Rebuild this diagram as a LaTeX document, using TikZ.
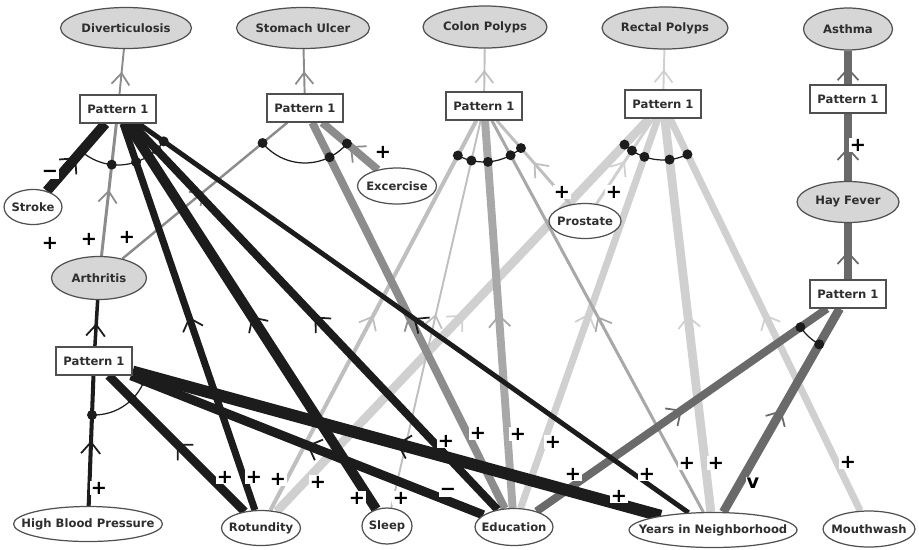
\documentclass[tikz,border=0pt]{standalone}
\usepackage{fontspec}
\setmainfont{DejaVu Sans}
\usetikzlibrary{shapes.geometric,arrows.meta,decorations.markings,calc}
\pgfdeclarelayer{edgelayer}
\pgfsetlayers{edgelayer,main}

\definecolor{inkblack}{HTML}{1C1C1C}
\definecolor{inkdark}{HTML}{6A6A6A}
\definecolor{inkmid}{HTML}{8C8C8C}
\definecolor{inklightB}{HTML}{A8A8A8}
\definecolor{inklight}{HTML}{BFBFBF}
\definecolor{inkpale}{HTML}{D0D0D0}
\definecolor{condfill}{HTML}{D6D6D6}
\definecolor{outline}{HTML}{505050}
\definecolor{textink}{HTML}{2E2E2E}

\newcommand\ndfont{\bfseries\fontsize{6.6}{7.5}\selectfont}
\newcommand\sgfont{\bfseries\fontsize{11}{11}\selectfont}

\tikzset{
  every label/.style={font=\ndfont, text=textink, inner sep=0pt},
  cond/.style={ellipse, draw=outline, line width=0.7pt, fill=condfill, inner sep=0pt},
  fact/.style={ellipse, draw=outline, line width=0.7pt, fill=white, inner sep=0pt},
  ovalsize/.style n args={2}{minimum width=#1cm, minimum height=#2cm},
  patbox/.style={rectangle, draw=outline, line width=0.7pt, fill=white,
    minimum width=1.52cm, minimum height=0.56cm, inner sep=0pt, font=\ndfont, text=textink},
  midarrow/.style={postaction={decorate}, decoration={markings,
    mark=at position 0.5 with {\arrow{Straight Barb[length=6.5pt, width=9.5pt 0.6, line width=1pt]}}}},
  blk/.style={midarrow, draw=inkblack},
  drk/.style={midarrow, draw=inkdark},
  mdg/.style={midarrow, draw=inkmid},
  lgb/.style={midarrow, draw=inklightB},
  lgt/.style={midarrow, draw=inklight},
  pal/.style={midarrow, draw=inkpale},
  arcline/.style={draw=inkblack, line width=0.7pt},
  dot/.style={fill=inkblack},
  sgn/.style={fill=white, inner sep=0.6pt, font=\sgfont, text=black},
}

% AND-arc joining the inputs of a pattern box
\newcommand\joinarc[4]{%
  \draw[arcline] let \p1=($(#2)-(#1)$), \p2=($(#3)-(#1)$),
      \n1={atan2(\y1,\x1)}, \n2={atan2(\y2,\x2)} in
    ($(#1)+(\n1:#4)$) arc[start angle=\n1, end angle=\n2, radius=#4];}
\newcommand\joindots[3]{%
  \foreach \s in {#2}{\fill[dot] ($(#1)!#3!(\s)$) circle[radius=0.1cm];}}

\begin{document}
\begin{tikzpicture}[x=0.02cm, y=-0.02cm]
\useasboundingbox (0,0) rectangle (919,549);

% conditions
\node[cond, ovalsize={2.62}{0.82}, label={center:Diverticulosis}] (div) at (126,28) {};
\node[cond, ovalsize={2.66}{0.82}, label={center:Stomach Ulcer}] (su) at (303,28) {};
\node[cond, ovalsize={2.48}{0.84}, label={center:Colon Polyps}] (cp) at (485,27) {};
\node[cond, ovalsize={2.52}{0.84}, label={center:Rectal Polyps}] (rp) at (665,28) {};
\node[cond, ovalsize={1.78}{0.84}, label={center:Asthma}] (ast) at (848,29) {};
\node[cond, ovalsize={2.04}{0.82}, label={center:Hay Fever}] (hf) at (848,202) {};
\node[cond, ovalsize={1.90}{0.86}, label={center:Arthritis}] (art) at (99,278) {};

% factors
\node[fact, ovalsize={1.16}{0.70}, label={center:Stroke}] (stroke) at (33,207) {};
\node[fact, ovalsize={1.58}{0.72}, label={center:Excercise}] (exc) at (397,186) {};
\node[fact, ovalsize={1.44}{0.70}, label={center:Prostate}] (pros) at (585,221) {};
\node[fact, ovalsize={2.98}{0.70}, label={center:High Blood Pressure}] (hbp) at (88,524) {};
\node[fact, ovalsize={1.58}{0.70}, label={center:Rotundity}] (rot) at (261,528) {};
\node[fact, ovalsize={1.00}{0.72}, label={center:Sleep}] (slp) at (387,526) {};
\node[fact, ovalsize={1.56}{0.74}, label={center:Education}] (edu) at (514,527) {};
\node[fact, ovalsize={3.36}{0.70}, label={center:Years in Neighborhood}] (yrs) at (713,530) {};
\node[fact, ovalsize={1.84}{0.72}, label={center:Mouthwash}] (mw) at (869,529) {};

% pattern boxes
\node[patbox] (pdiv) at (118,109) {Pattern 1};
\node[patbox] (psu)  at (305,108) {Pattern 1};
\node[patbox] (pcp)  at (484,106) {Pattern 1};
\node[patbox] (prp)  at (663,104) {Pattern 1};
\node[patbox] (past) at (848,99)  {Pattern 1};
\node[patbox] (phf)  at (848,294) {Pattern 1};
\node[patbox] (part) at (94,361)  {Pattern 1};

\begin{pgfonlayer}{edgelayer}
% rectal polyps
\draw[pal, line width=5pt]   (rot)  -- (prp);
\draw[pal, line width=1.7pt] (pros) -- (prp);
\draw[pal, line width=4pt]   (edu)  -- (prp);
\draw[pal, line width=5pt]   (yrs)  -- (prp);
\draw[pal, line width=4pt]   (mw)   -- (prp);
\draw[pal, line width=1.1pt] (prp)  -- (rp);
% colon polyps
\draw[lgt, line width=2.3pt] (rot)  -- (pcp);
\draw[lgt, line width=1.1pt] (slp)  -- (pcp);
\draw[lgb, line width=4.5pt] (edu)  -- (pcp);
\draw[lgb, line width=1.7pt] (yrs)  -- (pcp);
\draw[lgt, line width=1.7pt] (pros) -- (pcp);
\draw[lgt, line width=1.1pt] (pcp)  -- (cp);
% stomach ulcer
\draw[mdg, line width=1.4pt] (art)  -- (psu);
\draw[mdg, line width=4.5pt] (edu)  -- (psu);
\draw[mdg, line width=4.5pt] (exc)  -- (psu);
\draw[mdg, line width=1.1pt] (psu)  -- (su);
% hay fever and asthma
\draw[drk, line width=4.5pt] (edu)  -- (phf);
\draw[drk, line width=5pt]   (yrs)  -- (phf);
\draw[drk, line width=4pt]   (phf)  -- (hf);
\draw[drk, line width=4pt]   (hf)   -- (past);
\draw[drk, line width=4pt]   (past) -- (ast);
% diverticulosis
\draw[blk, line width=5.7pt] (stroke) -- (pdiv);
\draw[mdg, line width=1.7pt] (art)  -- (pdiv);
\draw[blk, line width=4pt]   (rot)  -- (pdiv);
\draw[blk, line width=5.7pt] (slp)  -- (pdiv);
\draw[blk, line width=4.5pt] (edu)  -- (pdiv);
\draw[blk, line width=2.8pt] (yrs)  -- (pdiv);
\draw[mdg, line width=1.1pt] (pdiv) -- (div);
% arthritis
\draw[blk, line width=2.3pt] (hbp)  -- (part);
\draw[blk, line width=5pt]   (rot)  -- (part);
\draw[blk, line width=5.2pt] (edu)  -- (part);
\draw[blk, line width=6.8pt] (yrs)  -- (part);
\draw[blk, line width=2pt]   (part) -- (art);
\end{pgfonlayer}

% AND-arcs and their dots
\joinarc{pdiv}{stroke}{yrs}{1.12cm}
\joindots{pdiv}{stroke,art,rot,slp,edu,yrs}{1.12cm}
\joinarc{psu}{art}{exc}{1.1cm}
\joindots{psu}{art,edu,exc}{1.1cm}
\joinarc{pcp}{rot}{pros}{1.12cm}
\joindots{pcp}{rot,slp,edu,yrs,pros}{1.12cm}
\joinarc{prp}{rot}{mw}{1.12cm}
\joindots{prp}{rot,pros,edu,yrs,mw}{1.12cm}
\joinarc{phf}{edu}{yrs}{1.16cm}
\joindots{phf}{edu,yrs}{1.16cm}
\joinarc{part}{hbp}{yrs}{1.08cm}
\joindots{part}{hbp,rot,edu,yrs}{1.08cm}

% signs on the links
\node[sgn] (g1)  at (50,174)  {−};
\node[sgn] (g2)  at (50,243)  {+};
\node[sgn] (g3)  at (89,239)  {+};
\node[sgn] (g4)  at (127,237) {+};
\node[sgn] (g5)  at (383,152) {+};
\node[sgn] (g6)  at (562,192) {+};
\node[sgn] (g7)  at (614,192) {+};
\node[sgn] (g8)  at (858,145) {+};
\node[sgn] (g9)  at (848,462) {+};
\node[sgn] (g10) at (99,488)  {+};
\node[sgn] (g11) at (225,477) {+};
\node[sgn] (g12) at (254,477) {+};
\node[sgn] (g13) at (278,479) {+};
\node[sgn] (g14) at (318,482) {+};
\node[sgn] (g15) at (357,498) {+};
\node[sgn] (g16) at (401,498) {+};
\node[sgn] (g17) at (448,492) {−};
\node[sgn] (g18) at (446,441) {+};
\node[sgn] (g19) at (478,433) {+};
\node[sgn] (g20) at (518,434) {+};
\node[sgn] (g21) at (553,442) {+};
\node[sgn] (g22) at (573,474) {+};
\node[sgn] (g23) at (619,496) {+};
\node[sgn] (g24) at (647,474) {+};
\node[sgn] (g25) at (687,463) {+};
\node[sgn] (g26) at (716,463) {+};
\node[sgn] (g27) at (753,483) {v};
\end{tikzpicture}
\end{document}
